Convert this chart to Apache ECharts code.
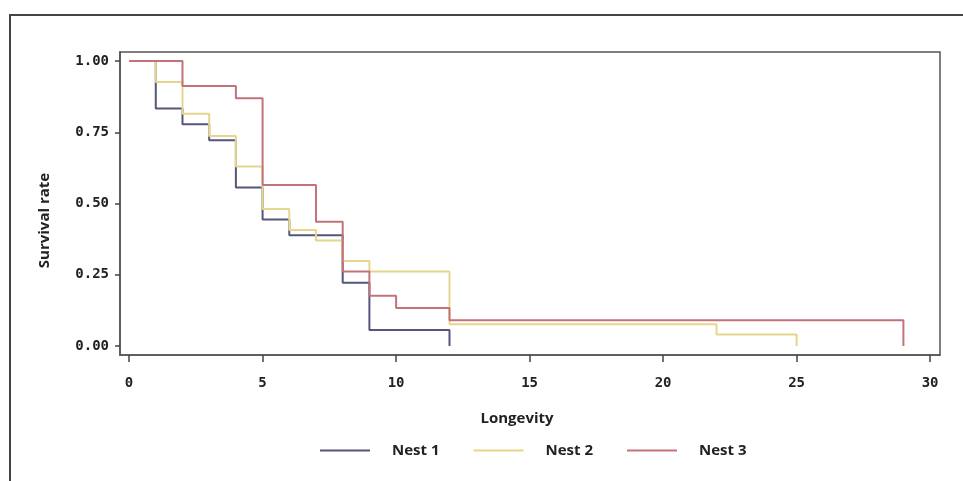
<!DOCTYPE html>
<html>
<head>
<meta charset="utf-8">
<script src="https://cdn.jsdelivr.net/npm/echarts@6/dist/echarts.min.js"></script>
<style>html,body{margin:0;padding:0;background:#fff;}#c{width:963px;height:481px;}</style>
</head>
<body>
<div id="c"></div>
<script>
// Kaplan-Meier step data
const nest1X = [0, 1, 2, 3, 4, 5, 6, 8, 9, 12];
const nest1Y = [1.00, 0.833, 0.778, 0.722, 0.556, 0.444, 0.389, 0.222, 0.056, 0.00];
const nest2X = [0, 1, 2, 3, 4, 5, 6, 7, 8, 9, 12, 22, 25];
const nest2Y = [1.00, 0.926, 0.815, 0.737, 0.630, 0.481, 0.407, 0.370, 0.298, 0.261, 0.076, 0.040, 0.00];
const nest3X = [0, 2, 4, 5, 7, 8, 9, 10, 12, 29];
const nest3Y = [1.00, 0.912, 0.869, 0.565, 0.436, 0.261, 0.176, 0.133, 0.090, 0.00];
const seriesNames = ['Nest 1', 'Nest 2', 'Nest 3'];
const seriesColors = ['#55557e', '#e6d68c', '#c4727a'];
const xTicks = [0, 5, 10, 15, 20, 25, 30];
const yTicks = [0, 0.25, 0.5, 0.75, 1.0];
const xRange = [-0.34, 30.37];
const yRange = [-0.0316, 1.0316];

function pairs(xs, ys){ return xs.map((x,i)=>[x, ys[i]]); }
const all = [[nest1X,nest1Y],[nest2X,nest2Y],[nest3X,nest3Y]];

const chart = echarts.init(document.getElementById('c'), null, {renderer:'canvas'});
const tickFont = {fontFamily:'DejaVu Sans Mono', fontWeight:'bold', fontSize:14, color:'#222'};
const titleFont = {fontFamily:'Open Sans', fontWeight:'bold', fontSize:15, color:'#222'};
chart.setOption({
  animation:false,
  backgroundColor:'#ffffff',
  grid:{left:120, right:23, top:52, bottom:126, show:true, borderColor:'#555', borderWidth:1.5, backgroundColor:'transparent'},
  xAxis:{
    type:'value', min:xRange[0], max:xRange[1],
    axisLine:{show:true, onZero:false, lineStyle:{color:'#555', width:1.5}},
    axisTick:{show:true, length:7, customValues:xTicks, lineStyle:{color:'#444', width:1.5}},
    axisLabel:Object.assign({margin:21, customValues:xTicks}, tickFont),
    splitLine:{show:false},
    name:'Longevity', nameLocation:'middle', nameGap:56,
    nameTextStyle:Object.assign({padding:[0,26,0,0]}, titleFont)
  },
  yAxis:{
    type:'value', min:yRange[0], max:yRange[1],
    axisLine:{show:true, onZero:false, lineStyle:{color:'#555', width:1.5}},
    axisTick:{show:true, length:5, customValues:yTicks, lineStyle:{color:'#444', width:1.5}},
    axisLabel:Object.assign({margin:11, customValues:yTicks, formatter:v=>v.toFixed(2)}, tickFont),
    splitLine:{show:false},
    name:'Survival rate', nameLocation:'middle', nameGap:68,
    nameTextStyle:Object.assign({padding:[0,34,0,0]}, titleFont)
  },
  legend:{
    left:320, top:443, padding:0, itemWidth:50, itemHeight:2, itemGap:34, icon:'rect',
    textStyle:Object.assign({padding:[0,0,0,17]}, titleFont),
    data:seriesNames
  },
  graphic:[
    {type:'polyline', shape:{points:[[10,481],[10,15],[963,15]]}, style:{fill:'none', stroke:'#444', lineWidth:2}, silent:true}
  ],
  series: all.map((d,i)=>({
    name:seriesNames[i], type:'line', step:'end', showSymbol:false, symbol:'none',
    data:pairs(d[0], d[1]), lineStyle:{color:seriesColors[i], width:2}, itemStyle:{color:seriesColors[i]},
    z: 2+i
  }))
});
</script>
</body>
</html>
